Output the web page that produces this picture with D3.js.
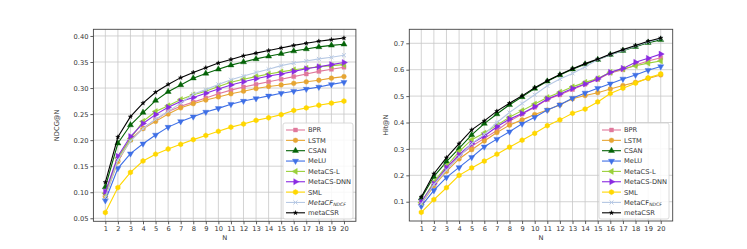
<!DOCTYPE html>
<html>
<head>
<meta charset="UTF-8">
<script src="https://cdn.jsdelivr.net/npm/d3@7"></script>
<style>
body { margin: 0; background: #fff; }
text { font-family: "DejaVu Sans", sans-serif; }
</style>
</head>
<body>
<div id="chart"></div>
<script>
// x categories
const N = [1, 2, 3, 4, 5, 6, 7, 8, 9, 10, 11, 12, 13, 14, 15, 16, 17, 18, 19, 20];

const methods = ["BPR", "LSTM", "CSAN", "MeLU", "MetaCS-L", "MetaCS-DNN", "SML", "MetaCF", "metaCSR"];

// NDCG@N
const ndcgBPR = [0.095, 0.162, 0.201, 0.223, 0.239, 0.255, 0.265, 0.273, 0.281, 0.289, 0.296, 0.302, 0.307, 0.312, 0.317, 0.322, 0.327, 0.332, 0.336, 0.340];
const ndcgLSTM = [0.092, 0.159, 0.200, 0.222, 0.236, 0.250, 0.262, 0.270, 0.277, 0.283, 0.289, 0.294, 0.299, 0.303, 0.306, 0.309, 0.312, 0.315, 0.319, 0.322];
const ndcgCSAN = [0.110, 0.194, 0.229, 0.253, 0.276, 0.293, 0.306, 0.319, 0.328, 0.336, 0.344, 0.350, 0.356, 0.361, 0.366, 0.371, 0.375, 0.379, 0.382, 0.384];
const ndcgMeLU = [0.084, 0.146, 0.174, 0.193, 0.210, 0.225, 0.236, 0.245, 0.254, 0.261, 0.269, 0.275, 0.280, 0.285, 0.290, 0.294, 0.298, 0.302, 0.307, 0.311];
const ndcgMetaCSL = [0.098, 0.166, 0.203, 0.236, 0.255, 0.266, 0.278, 0.287, 0.294, 0.303, 0.311, 0.317, 0.322, 0.327, 0.331, 0.335, 0.338, 0.341, 0.343, 0.345];
const ndcgMetaCSDNN = [0.101, 0.169, 0.207, 0.232, 0.249, 0.263, 0.274, 0.282, 0.290, 0.298, 0.306, 0.312, 0.318, 0.323, 0.327, 0.332, 0.337, 0.341, 0.345, 0.349];
const ndcgSML = [0.061, 0.109, 0.138, 0.160, 0.173, 0.183, 0.192, 0.201, 0.209, 0.217, 0.225, 0.231, 0.238, 0.243, 0.249, 0.257, 0.262, 0.267, 0.271, 0.275];
const ndcgMetaCF = [0.090, 0.162, 0.198, 0.222, 0.240, 0.255, 0.271, 0.288, 0.297, 0.307, 0.316, 0.323, 0.330, 0.336, 0.343, 0.348, 0.352, 0.356, 0.359, 0.363];
const ndcgMetaCSR = [0.119, 0.206, 0.245, 0.271, 0.292, 0.307, 0.320, 0.330, 0.339, 0.348, 0.355, 0.362, 0.367, 0.372, 0.377, 0.382, 0.386, 0.390, 0.393, 0.396];

// Hit@N
const hitBPR = [0.095, 0.165, 0.220, 0.275, 0.310, 0.340, 0.370, 0.405, 0.432, 0.458, 0.487, 0.505, 0.525, 0.545, 0.563, 0.588, 0.600, 0.618, 0.633, 0.645];
const hitLSTM = [0.092, 0.160, 0.215, 0.262, 0.297, 0.330, 0.362, 0.390, 0.410, 0.430, 0.447, 0.467, 0.490, 0.502, 0.513, 0.527, 0.540, 0.552, 0.567, 0.580];
const hitCSAN = [0.113, 0.195, 0.252, 0.302, 0.353, 0.396, 0.432, 0.467, 0.497, 0.529, 0.556, 0.580, 0.602, 0.621, 0.638, 0.657, 0.672, 0.687, 0.702, 0.713];
const hitMeLU = [0.083, 0.143, 0.192, 0.230, 0.268, 0.308, 0.337, 0.365, 0.395, 0.420, 0.447, 0.467, 0.492, 0.512, 0.530, 0.547, 0.565, 0.580, 0.598, 0.612];
const hitMetaCSL = [0.097, 0.175, 0.235, 0.290, 0.335, 0.360, 0.390, 0.420, 0.445, 0.470, 0.495, 0.515, 0.535, 0.552, 0.567, 0.590, 0.603, 0.615, 0.625, 0.633];
const hitMetaCSDNN = [0.100, 0.168, 0.229, 0.278, 0.320, 0.349, 0.384, 0.413, 0.434, 0.460, 0.489, 0.508, 0.529, 0.546, 0.565, 0.590, 0.605, 0.628, 0.643, 0.659];
const hitSML = [0.060, 0.108, 0.153, 0.200, 0.228, 0.254, 0.280, 0.307, 0.333, 0.359, 0.388, 0.410, 0.435, 0.451, 0.478, 0.510, 0.530, 0.549, 0.569, 0.584];
const hitMetaCF = [0.092, 0.165, 0.220, 0.270, 0.320, 0.355, 0.400, 0.438, 0.472, 0.505, 0.539, 0.565, 0.586, 0.611, 0.638, 0.657, 0.673, 0.690, 0.705, 0.718];
const hitMetaCSR = [0.118, 0.206, 0.267, 0.320, 0.372, 0.406, 0.443, 0.473, 0.501, 0.532, 0.558, 0.582, 0.604, 0.623, 0.640, 0.659, 0.676, 0.692, 0.708, 0.720];

const ndcgTicks = [0.05, 0.10, 0.15, 0.20, 0.25, 0.30, 0.35, 0.40];
const hitTicks = [0.1, 0.2, 0.3, 0.4, 0.5, 0.6, 0.7];

const colors = ["#e0789c", "#e6a532", "#046307", "#3e6fe6", "#9ad03a", "#8a2be2", "#ffd700", "#b7c9e4", "#000000"];

// hexagon marker for SML
const symbolHex = {
  draw(ctx, size) {
    const r = Math.sqrt(size / (1.5 * Math.sqrt(3)));
    for (let i = 0; i < 6; i++) {
      const a = Math.PI / 6 + i * Math.PI / 3;
      const px = r * Math.cos(a), py = r * Math.sin(a);
      if (i === 0) ctx.moveTo(px, py); else ctx.lineTo(px, py);
    }
    ctx.closePath();
  }
};
// marker type, rotation, area
const markers = [
  [d3.symbolSquare, 0, 16],
  [d3.symbolCircle, 0, 18],
  [d3.symbolTriangle, 0, 16],
  [d3.symbolTriangle, 180, 16],
  [d3.symbolTriangle, -90, 16],
  [d3.symbolTriangle, 90, 16],
  [symbolHex, 0, 18],
  [d3.symbolTimes, 0, 12],
  [d3.symbolStar, 0, 6]
];

const svg = d3.select("#chart").append("svg")
  .attr("width", 747)
  .attr("height", 249);

function drawPanel(p) {
  const x = d3.scaleLinear().domain([0.05, 20.95]).range([p.left, p.right]);
  const y = d3.scaleLinear().domain(p.yDomain).range([p.bottom, p.top]);
  const g = svg.append("g");

  // grid
  g.selectAll(".gx").data(N).enter().append("line")
    .attr("x1", d => x(d)).attr("x2", d => x(d))
    .attr("y1", p.top).attr("y2", p.bottom)
    .attr("stroke", "#c8c8c8").attr("stroke-width", 0.8);
  g.selectAll(".gy").data(p.ticks).enter().append("line")
    .attr("y1", d => y(d)).attr("y2", d => y(d))
    .attr("x1", p.left).attr("x2", p.right)
    .attr("stroke", "#c8c8c8").attr("stroke-width", 0.8);

  // axes
  const xa = g.append("g")
    .attr("transform", `translate(0,${p.bottom})`)
    .call(d3.axisBottom(x).tickValues(N).tickSize(3).tickPadding(2).tickFormat(d3.format("d")));
  const ya = g.append("g")
    .attr("transform", `translate(${p.left},0)`)
    .call(d3.axisLeft(y).tickValues(p.ticks).tickSize(3).tickPadding(2).tickFormat(d3.format(p.fmt)));
  [xa, ya].forEach(a => {
    a.select(".domain").remove();
    a.selectAll("line").attr("stroke", "#333").attr("stroke-width", 0.8);
    a.selectAll("text").attr("fill", "#333").style("font-size", "6.7px").style("font-family", "DejaVu Sans");
  });

  // series
  p.series.forEach((s, i) => {
    const line = d3.line().x((d, j) => x(N[j])).y(d => y(d));
    g.append("path").datum(s)
      .attr("fill", "none")
      .attr("stroke", colors[i])
      .attr("stroke-width", 1.1)
      .attr("d", line);
    const m = markers[i];
    const sym = d3.symbol().type(m[0]).size(m[2]);
    g.selectAll(null).data(s).enter().append("path")
      .attr("d", sym)
      .attr("transform", (d, j) => `translate(${x(N[j])},${y(d)}) rotate(${m[1]})`)
      .attr("fill", m[0] === d3.symbolTimes ? "none" : colors[i])
      .attr("stroke", colors[i])
      .attr("stroke-width", m[0] === d3.symbolTimes ? 1 : 0.4);
  });

  // frame
  g.append("rect")
    .attr("x", p.left).attr("y", p.top)
    .attr("width", p.right - p.left).attr("height", p.bottom - p.top)
    .attr("fill", "none").attr("stroke", "#444").attr("stroke-width", 0.9);

  // labels
  g.append("text")
    .attr("x", (p.left + p.right) / 2).attr("y", 240)
    .attr("text-anchor", "middle")
    .attr("fill", "#333").style("font-size", "6.7px")
    .text("N");
  g.append("text")
    .attr("transform", `translate(${p.yLabelX},${(p.top + p.bottom) / 2}) rotate(-90)`)
    .attr("text-anchor", "middle")
    .attr("fill", "#333").style("font-size", "6.7px")
    .text(p.yLabel);

  // legend
  const lg = g.append("g").attr("transform", `translate(${p.legend[0]},${p.legend[1]})`);
  lg.append("rect")
    .attr("width", p.legend[2]).attr("height", 96)
    .attr("rx", 2)
    .attr("fill", "#fff").attr("fill-opacity", 0.85)
    .attr("stroke", "#d0d0d0").attr("stroke-width", 0.8);
  methods.forEach((name, i) => {
    const ly = 7 + i * 10.35;
    lg.append("line")
      .attr("x1", 3).attr("x2", 22).attr("y1", ly).attr("y2", ly)
      .attr("stroke", colors[i]).attr("stroke-width", 1.1);
    const m = markers[i];
    lg.append("path")
      .attr("d", d3.symbol().type(m[0]).size(m[2])())
      .attr("transform", `translate(12.5,${ly}) rotate(${m[1]})`)
      .attr("fill", m[0] === d3.symbolTimes ? "none" : colors[i])
      .attr("stroke", colors[i])
      .attr("stroke-width", m[0] === d3.symbolTimes ? 1 : 0.4);
    const t = lg.append("text")
      .attr("x", 25).attr("y", ly + 2.4)
      .attr("fill", "#333").style("font-size", "6.7px");
    if (name === "MetaCF") {
      t.append("tspan").text("MetaCF").style("font-style", p.italicCF ? "italic" : "normal");
      t.append("tspan").text("NDCF").attr("dy", 1.5).style("font-size", "4.6px")
        .style("font-style", p.italicCF ? "italic" : "normal");
    } else {
      t.text(name);
    }
  });
}

drawPanel({
  left: 93.4, right: 355.9, top: 29.3, bottom: 221.3,
  yDomain: [0.0442, 0.4128], ticks: ndcgTicks, fmt: ".2f",
  yLabel: "NDCG@N", yLabelX: 59,
  legend: [283, 123, 70], italicCF: true,
  series: [ndcgBPR, ndcgLSTM, ndcgCSAN, ndcgMeLU, ndcgMetaCSL, ndcgMetaCSDNN, ndcgSML, ndcgMetaCF, ndcgMetaCSR]
});

drawPanel({
  left: 409.3, right: 672.7, top: 29.3, bottom: 221,
  yDomain: [0.027, 0.753], ticks: hitTicks, fmt: ".1f",
  yLabel: "Hit@N", yLabelX: 388,
  legend: [599, 123, 70], italicCF: false,
  series: [hitBPR, hitLSTM, hitCSAN, hitMeLU, hitMetaCSL, hitMetaCSDNN, hitSML, hitMetaCF, hitMetaCSR]
});
</script>
</body>
</html>
